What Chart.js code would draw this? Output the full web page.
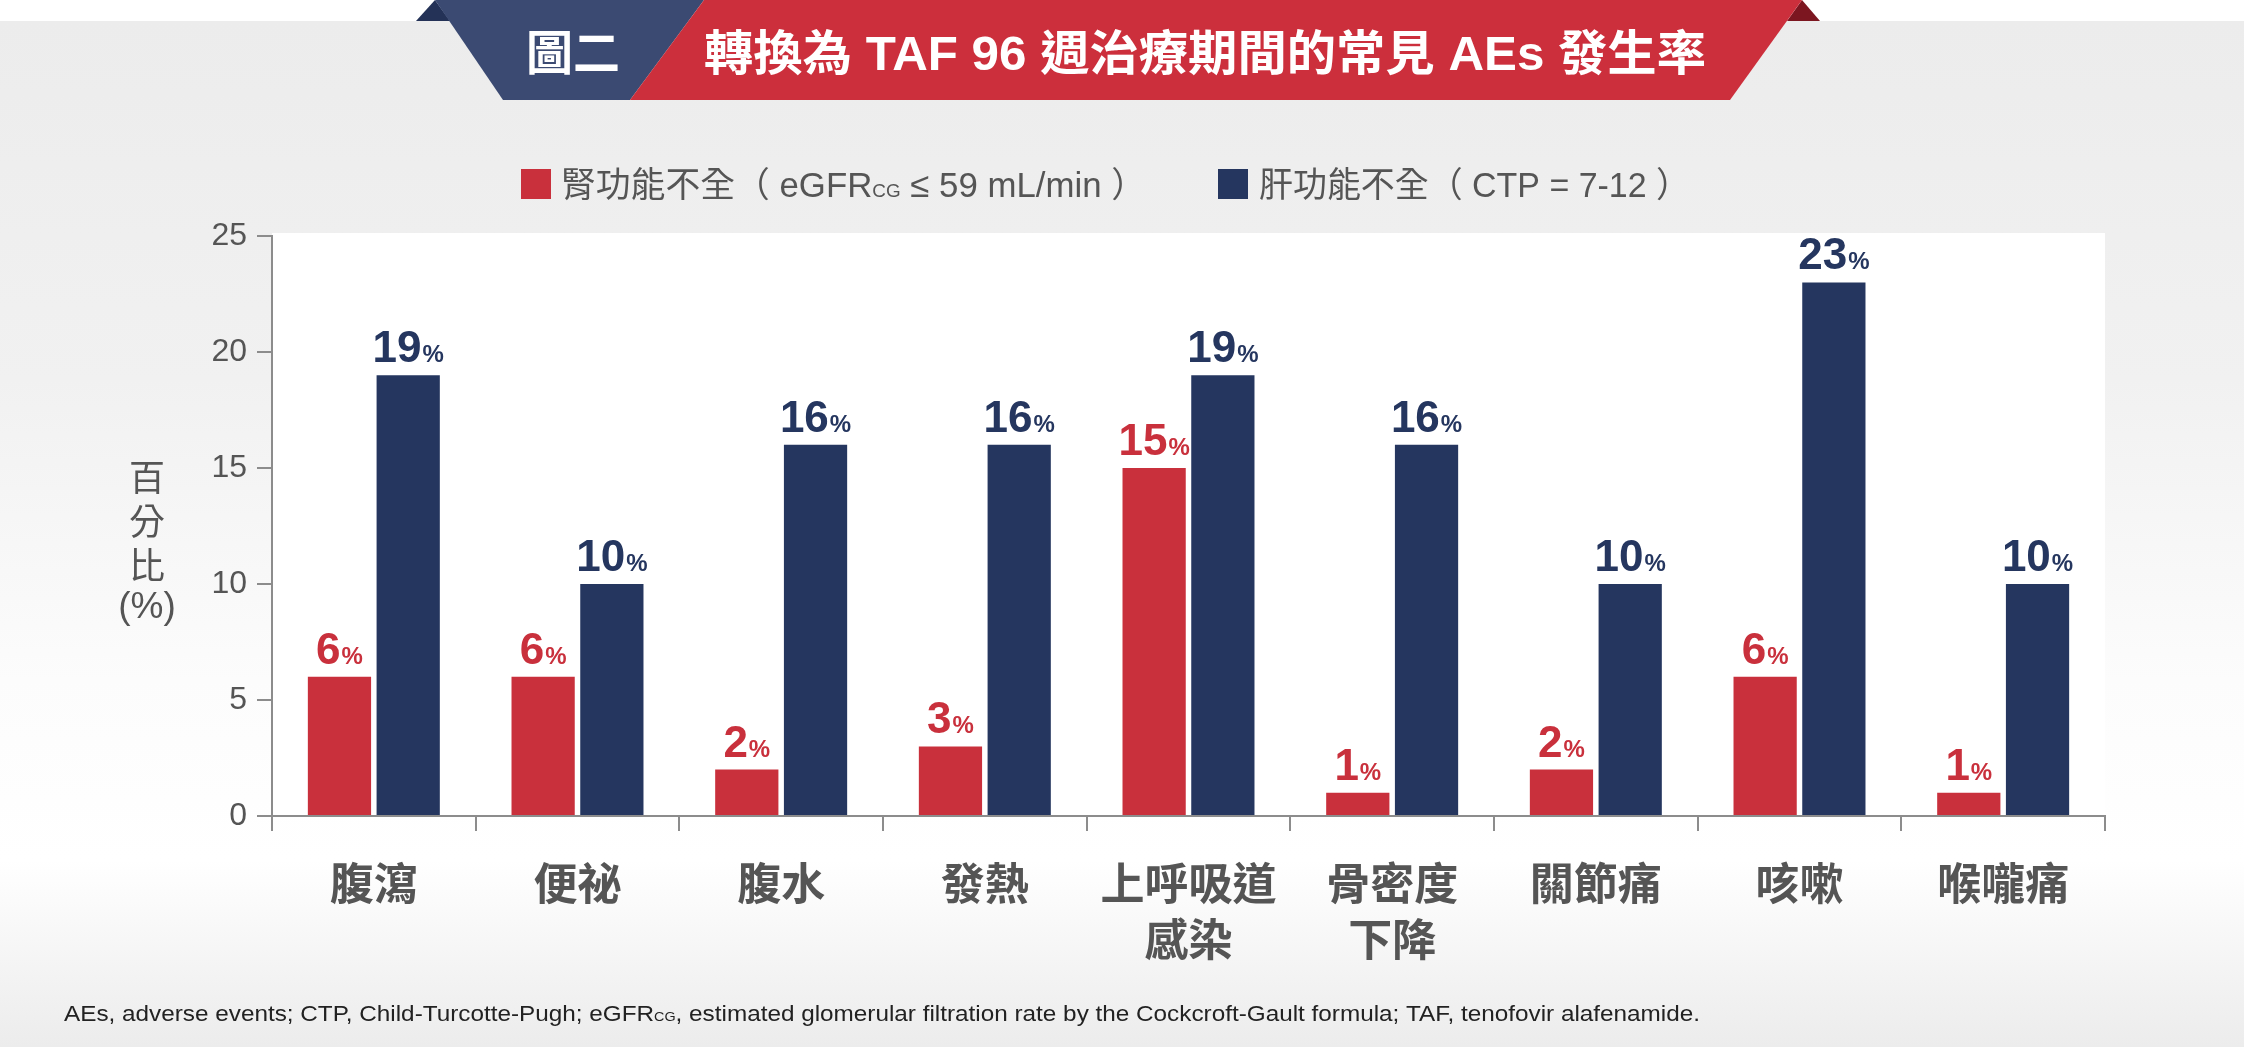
<!DOCTYPE html>
<html>
<head>
<meta charset="utf-8">
<script src="https://cdn.jsdelivr.net/npm/chart.js@4.4.1/dist/chart.umd.min.js"></script>
<style>
    html, body { margin: 0; padding: 0; }
    body {
        width: 2244px;
        height: 1047px;
        overflow: hidden;
        background: linear-gradient(to bottom, #ffffff 0px, #ffffff 21px, #ececec 21px, #f1f1f1 380px, #fcfcfc 680px, #ffffff 860px, #ececec 1047px);
    }
    canvas { display: block; }
</style>
</head>
<body>
<canvas id="chart" width="2244" height="1047"></canvas>
<script>
const categories = [['腹瀉'], ['便祕'], ['腹水'], ['發熱'], ['上呼吸道', '感染'], ['骨密度', '下降'], ['關節痛'], ['咳嗽'], ['喉嚨痛']];
const renalValues = [6, 6, 2, 3, 15, 1, 2, 6, 1];
const hepaticValues = [19, 10, 16, 16, 19, 16, 10, 23, 10];
const yMin = 0;
const yMax = 25;
const yStep = 5;

const RED = '#c9303c';
const NAVY = '#25365f';
const AXIS = '#8c8c8c';
const TEXT = '#555555';
const LATIN = '"Liberation Sans", Arial, "Noto Sans CJK TC", sans-serif';
const CJK = '"Noto Sans CJK TC", "Liberation Sans", sans-serif';

// draws text pieces in a row, squeezed or stretched to a given width
function drawRuns(ctx, runs, x, y, width) {
    let total = 0;
    runs.forEach((r) => {
        ctx.font = r.font;
        r.w = ctx.measureText(r.text).width;
        total += r.w;
    });
    ctx.save();
    ctx.translate(x, y);
    ctx.scale(width / total, 1);
    ctx.textAlign = 'left';
    ctx.textBaseline = 'alphabetic';
    let cx = 0;
    runs.forEach((r) => {
        ctx.font = r.font;
        ctx.fillStyle = r.color;
        ctx.fillText(r.text, cx, r.dy || 0);
        cx += r.w;
    });
    ctx.restore();
}

function poly(ctx, pts, color) {
    ctx.beginPath();
    ctx.moveTo(pts[0][0], pts[0][1]);
    pts.slice(1).forEach((p) => ctx.lineTo(p[0], p[1]));
    ctx.closePath();
    ctx.fillStyle = color;
    ctx.fill();
}

const plotBackground = {
    id: 'plotBackground',
    beforeDraw(chart) {
        const { ctx, chartArea: a } = chart;
        ctx.save();
        ctx.fillStyle = '#ffffff';
        ctx.fillRect(a.left, a.top - 3, a.right - a.left, a.bottom - a.top + 3);
        ctx.restore();
    }
};

const valueLabels = {
    id: 'valueLabels',
    afterDatasetsDraw(chart) {
        const ctx = chart.ctx;
        const numFont = 'bold 44px ' + LATIN;
        const pctFont = 'bold 24px ' + LATIN;
        ctx.save();
        chart.data.datasets.forEach((ds, i) => {
            chart.getDatasetMeta(i).data.forEach((bar, j) => {
                const num = String(ds.data[j]);
                ctx.font = numFont;
                const w1 = ctx.measureText(num).width;
                ctx.font = pctFont;
                const w2 = ctx.measureText('%').width;
                const x0 = bar.x - (w1 + w2 + 1) / 2;
                const y = bar.y - 13;
                ctx.fillStyle = ds.backgroundColor;
                ctx.textAlign = 'left';
                ctx.textBaseline = 'alphabetic';
                ctx.font = numFont;
                ctx.fillText(num, x0, y);
                ctx.font = pctFont;
                ctx.fillText('%', x0 + w1 + 1, y);
            });
        });
        ctx.restore();
    }
};

const decorations = {
    id: 'decorations',
    afterDraw(chart) {
        const ctx = chart.ctx;
        ctx.save();

        // title banner
        poly(ctx, [[416, 21], [435, 0], [450, 21]], '#243257');
        poly(ctx, [[1787, 21], [1802, 0], [1820, 21]], '#7c1620');
        poly(ctx, [[435, 0], [704, 0], [630, 100], [503, 100]], '#3b4a72');
        poly(ctx, [[704, 0], [1802, 0], [1730, 100], [630, 100]], '#cc2f3c');
        drawRuns(ctx, [{ text: '圖二', font: 'bold 48px ' + CJK, color: '#ffffff' }], 526, 70, 94);
        drawRuns(ctx, [{ text: '轉換為 TAF 96 週治療期間的常見 AEs 發生率', font: 'bold 48px ' + LATIN, color: '#ffffff' }], 704, 70, 1002);

        // legend
        ctx.fillStyle = RED;
        ctx.fillRect(521, 169, 30, 30);
        ctx.fillStyle = NAVY;
        ctx.fillRect(1218, 169, 30, 30);
        drawRuns(ctx, [
            { text: '腎功能不全（ eGFR', font: '35px ' + LATIN, color: TEXT },
            { text: 'CG', font: '19px ' + LATIN, color: TEXT },
            { text: ' ≤ 59 mL/min ）', font: '35px ' + LATIN, color: TEXT }
        ], 561, 197, 585);
        drawRuns(ctx, [
            { text: '肝功能不全（ CTP = 7-12 ）', font: '35px ' + LATIN, color: TEXT }
        ], 1259, 197, 431);

        // y axis title
        ctx.fillStyle = TEXT;
        ctx.textAlign = 'center';
        ctx.textBaseline = 'middle';
        ctx.font = '36px ' + CJK;
        ctx.fillText('百', 147, 477);
        ctx.fillText('分', 147, 521);
        ctx.fillText('比', 147, 565);
        ctx.font = '37px ' + LATIN;
        ctx.fillText('(%)', 147, 608);

        // footnote
        drawRuns(ctx, [
            { text: 'AEs, adverse events; CTP, Child-Turcotte-Pugh; eGFR', font: '22px ' + LATIN, color: '#222222' },
            { text: 'CG', font: '13px ' + LATIN, color: '#222222' },
            { text: ', estimated glomerular filtration rate by the Cockcroft-Gault formula; TAF, tenofovir alafenamide.', font: '22px ' + LATIN, color: '#222222' }
        ], 64, 1021, 1636);

        ctx.restore();
    }
};

const chart = new Chart(document.getElementById('chart').getContext('2d'), {
    type: 'bar',
    data: {
        labels: categories,
        datasets: [
            {
                label: '腎功能不全 ( eGFRCG ≤ 59 mL/min )',
                data: renalValues,
                backgroundColor: RED,
                categoryPercentage: 0.675,
                barPercentage: 0.92
            },
            {
                label: '肝功能不全 ( CTP = 7-12 )',
                data: hepaticValues,
                backgroundColor: NAVY,
                categoryPercentage: 0.675,
                barPercentage: 0.92
            }
        ]
    },
    options: {
        responsive: false,
        animation: false,
        layout: {
            padding: { left: 0, right: 139, top: 236, bottom: 0 }
        },
        plugins: {
            legend: { display: false },
            tooltip: { enabled: false }
        },
        scales: {
            x: {
                grid: {
                    drawOnChartArea: false,
                    drawTicks: true,
                    tickLength: 15,
                    color: AXIS,
                    lineWidth: 2
                },
                border: { display: true, color: AXIS, width: 2 },
                ticks: {
                    color: TEXT,
                    padding: 24,
                    maxRotation: 0,
                    autoSkip: false,
                    font: { family: CJK, size: 44, weight: 'bold', lineHeight: 1.27 }
                },
                afterFit: (scale) => { scale.height = 231; }
            },
            y: {
                min: yMin,
                max: yMax,
                grid: {
                    drawOnChartArea: false,
                    drawTicks: true,
                    tickLength: 15,
                    color: AXIS,
                    lineWidth: 2
                },
                border: { display: true, color: AXIS, width: 2 },
                ticks: {
                    stepSize: yStep,
                    color: TEXT,
                    padding: 10,
                    font: { family: LATIN, size: 32 }
                },
                afterFit: (scale) => { scale.width = 272; }
            }
        }
    },
    plugins: [plotBackground, valueLabels, decorations]
});

// line the plot area up with the reference frame
const area = chart.chartArea;
chart.options.layout.padding.top += 236 - area.top;
chart.options.layout.padding.right += area.right - 2105;
chart.update();
</script>
</body>
</html>
